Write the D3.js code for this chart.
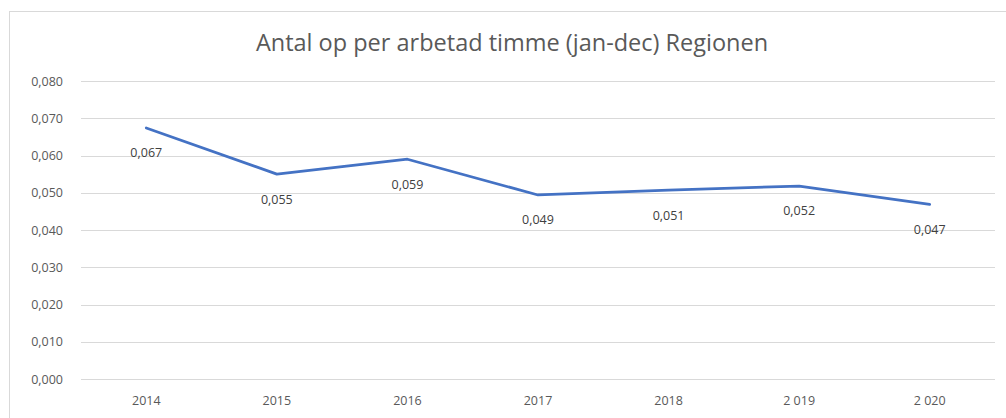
<!DOCTYPE html>
<html>
<head>
<meta charset="utf-8">
<script src="https://cdn.jsdelivr.net/npm/d3@7"></script>
<style>
  html, body { margin: 0; padding: 0; background: #fff; }
  svg { display: block; }
  text { font-family: "Open Sans", "Noto Sans", sans-serif; }
</style>
</head>
<body>
<svg id="chart" width="1006" height="418"></svg>
<script>
const title = "Antal op per arbetad timme (jan-dec) Regionen";
const categories = ["2014", "2015", "2016", "2017", "2018", "2 019", "2 020"];
const values = [0.0674, 0.0550, 0.0590, 0.0494, 0.0507, 0.0518, 0.0469];
const yTicks = [0, 0.01, 0.02, 0.03, 0.04, 0.05, 0.06, 0.07, 0.08];

const W = 1006, H = 418;
const margin = { left: 81, right: 11, top: 81, bottom: 39 };
const svg = d3.select("#chart");

const fmt = v => d3.format(".3f")(v).replace(".", ",");

// outer chart border (cropped on right and bottom)
svg.append("rect")
  .attr("x", 9.5).attr("y", 11.5)
  .attr("width", W + 20).attr("height", H + 20)
  .attr("fill", "#fff").attr("stroke", "#d9d9d9").attr("stroke-width", 1);

const x = d3.scaleBand().domain(categories).range([margin.left, W - margin.right]);
const y = d3.scaleLinear().domain([0, 0.08]).range([H - margin.bottom, margin.top]);

// gridlines
svg.append("g")
  .selectAll("line").data(yTicks).join("line")
  .attr("x1", margin.left).attr("x2", W - margin.right)
  .attr("y1", d => Math.round(y(d)) + 0.5).attr("y2", d => Math.round(y(d)) + 0.5)
  .attr("stroke", "#d9d9d9").attr("stroke-width", 1);

// y axis labels
const yAxis = d3.axisLeft(y).tickValues(yTicks).tickFormat(fmt).tickSize(0).tickPadding(18);
const gy = svg.append("g").attr("transform", `translate(${margin.left},0)`).call(yAxis);
gy.select(".domain").remove();
gy.selectAll("text").attr("fill", "#595959").style("font-size", "12.5px")
  .style("font-family", '"Open Sans", sans-serif');

// x axis labels
const xAxis = d3.axisBottom(x).tickSize(0).tickPadding(17);
const gx = svg.append("g").attr("transform", `translate(0,${H - margin.bottom})`).call(xAxis);
gx.select(".domain").remove();
gx.selectAll("text").attr("fill", "#595959").style("font-size", "12.5px")
  .style("font-family", '"Open Sans", sans-serif');

// line
const line = d3.line()
  .x((d, i) => x(categories[i]) + x.bandwidth() / 2)
  .y(d => y(d));
svg.append("path")
  .datum(values)
  .attr("d", line)
  .attr("fill", "none")
  .attr("stroke", "#4472c4")
  .attr("stroke-width", 2.75)
  .attr("stroke-linejoin", "round")
  .attr("stroke-linecap", "round");

// data labels (below points)
svg.append("g").selectAll("text").data(values).join("text")
  .attr("x", (d, i) => x(categories[i]) + x.bandwidth() / 2)
  .attr("y", d => y(d) + 25)
  .attr("dy", "0.35em")
  .attr("text-anchor", "middle")
  .attr("fill", "#404040")
  .style("font-size", "12.5px")
  .text(d => fmt(d));

// title
svg.append("text")
  .attr("x", 512).attr("y", 51)
  .attr("text-anchor", "middle")
  .attr("fill", "#595959")
  .style("font-size", "23.5px")
  .text(title);
</script>
</body>
</html>
